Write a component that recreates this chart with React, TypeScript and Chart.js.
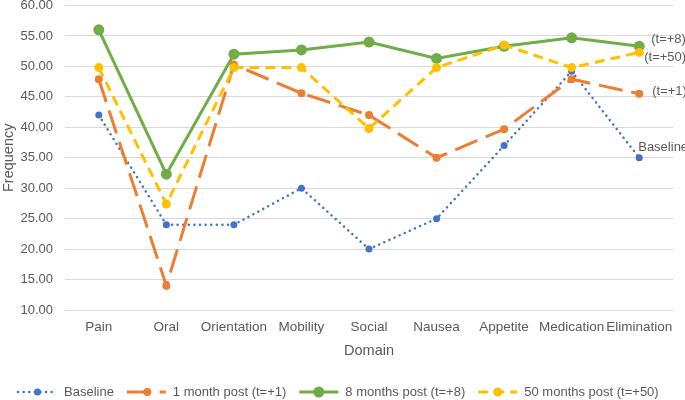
import React, { useEffect, useRef } from "react";
import { Chart, registerables } from "chart.js";
Chart.register(...registerables);

const categories = ["Pain", "Oral", "Orientation", "Mobility", "Social", "Nausea", "Appetite", "Medication", "Elimination"];
const baseline = [42, 24, 24, 30, 20, 25, 37, 49.2, 35];
const oneMonth = [47.9, 14, 50.3, 45.6, 42, 35, 39.7, 47.9, 45.5];
const eightMonths = [56, 32.3, 52, 52.7, 54, 51.3, 53.3, 54.7, 53.3];
const fiftyMonths = [49.8, 27.4, 49.8, 49.8, 39.8, 49.8, 53.5, 49.8, 52.3];
const seriesNames = ["Baseline", "1 month post (t=+1)", "8 months post (t=+8)", "50 months post (t=+50)"];
const endLabels = ["Baseline", "(t=+1)", "(t=+8)", "(t=+50)"];
const yMin = 10;
const yMax = 60;
const yStep = 5;
const xTitle = "Domain";
const yTitle = "Frequency";

const FONT = "'Liberation Sans', Arial, sans-serif";
const GREY = "#595959";

const styles = [
  { color: "#4472C4", width: 2.5, dash: [0.1, 5.5], cap: "round", radius: 3.5, order: 4, lx: -1, ly: -10 },
  { color: "#ED7D31", width: 3, dash: [24, 9], cap: "butt", radius: 4, order: 3, lx: 13, ly: -2 },
  { color: "#70AD47", width: 3, dash: [], cap: "butt", radius: 5.5, order: 2, lx: 12, ly: -7 },
  { color: "#FFC000", width: 3, dash: [10, 6], cap: "butt", radius: 4.5, order: 1, lx: 5, ly: 5 },
];

const endLabelPlugin = {
  id: "endLabels",
  afterDatasetsDraw(chart: any) {
    const ctx = chart.ctx;
    ctx.save();
    ctx.font = `13px ${FONT}`;
    ctx.fillStyle = GREY;
    ctx.textBaseline = "middle";
    ctx.textAlign = "left";
    chart.data.datasets.forEach((ds: any, i: number) => {
      const meta = chart.getDatasetMeta(i);
      const pt = meta.data[meta.data.length - 1];
      const st = styles[i];
      ctx.fillText(endLabels[i], pt.x + st.lx, pt.y + st.ly);
    });
    ctx.restore();
  },
};

const legendPlugin = {
  id: "customLegend",
  afterDraw(chart: any) {
    const ctx = chart.ctx;
    ctx.save();
    ctx.font = `13px ${FONT}`;
    ctx.textBaseline = "middle";
    const y = 392;
    let x = 18;
    const symW = 39;
    chart.data.datasets.forEach((ds: any, i: number) => {
      const st = styles[i];
      ctx.strokeStyle = st.color;
      ctx.lineWidth = st.width;
      ctx.lineCap = st.cap;
      ctx.setLineDash(st.dash);
      ctx.beginPath();
      ctx.moveTo(x, y);
      ctx.lineTo(x + symW, y);
      ctx.stroke();
      ctx.setLineDash([]);
      ctx.fillStyle = st.color;
      ctx.beginPath();
      ctx.arc(x + symW / 2 + (i === 1 ? 1 : 0), y, st.radius, 0, Math.PI * 2);
      ctx.fill();
      x += symW + 7;
      ctx.fillStyle = GREY;
      ctx.textAlign = "left";
      ctx.fillText(seriesNames[i], x, y);
      x += ctx.measureText(seriesNames[i]).width + 13;
    });
    ctx.restore();
  },
};

export default function App() {
  const ref = useRef<HTMLCanvasElement>(null);
  useEffect(() => {
    document.body.style.margin = "0";
    const series = [baseline, oneMonth, eightMonths, fiftyMonths];
    const chart = new Chart(ref.current as HTMLCanvasElement, {
      type: "line",
      data: {
        labels: categories,
        datasets: series.map((d, i) => ({
          label: seriesNames[i],
          data: d,
          borderColor: styles[i].color,
          backgroundColor: styles[i].color,
          pointBackgroundColor: styles[i].color,
          pointBorderColor: styles[i].color,
          borderWidth: styles[i].width,
          borderDash: styles[i].dash,
          borderCapStyle: styles[i].cap as any,
          pointRadius: styles[i].radius,
          pointBorderWidth: 0,
          tension: 0,
          fill: false,
          order: styles[i].order,
        })),
      },
      options: {
        animation: false,
        responsive: false,
        maintainAspectRatio: false,
        layout: { padding: { top: 5, bottom: 40, left: 0, right: 12 } },
        plugins: { legend: { display: false }, tooltip: { enabled: false } },
        scales: {
          x: {
            offset: true,
            grid: { display: false, drawTicks: false },
            border: { display: false },
            ticks: { color: GREY, font: { family: FONT, size: 13.5 }, padding: 9, maxRotation: 0, autoSkip: false },
            title: { display: true, text: xTitle, color: GREY, font: { family: FONT, size: 14.5 }, padding: { top: 4, bottom: 0 } },
            afterFit: (s: any) => { s.height = 50; s.paddingLeft = 0; s.paddingRight = 0; },
          },
          y: {
            min: yMin,
            max: yMax,
            grid: { color: "#D9D9D9", lineWidth: 1, drawTicks: false },
            border: { display: false },
            ticks: {
              stepSize: yStep,
              color: GREY,
              font: { family: FONT, size: 13 },
              padding: 12,
              callback: (v: any) => Number(v).toFixed(2),
            },
            title: { display: true, text: yTitle, color: GREY, font: { family: FONT, size: 14.5 }, padding: 0 },
            afterFit: (s: any) => { s.width = 65; s.paddingTop = 0; s.paddingBottom = 0; },
          },
        },
      },
      plugins: [endLabelPlugin, legendPlugin],
    });
    return () => chart.destroy();
  }, []);
  return (
    <div style={{ width: 685, height: 400 }}>
      <canvas ref={ref} width={685} height={400} style={{ display: "block" }} />
    </div>
  );
}
